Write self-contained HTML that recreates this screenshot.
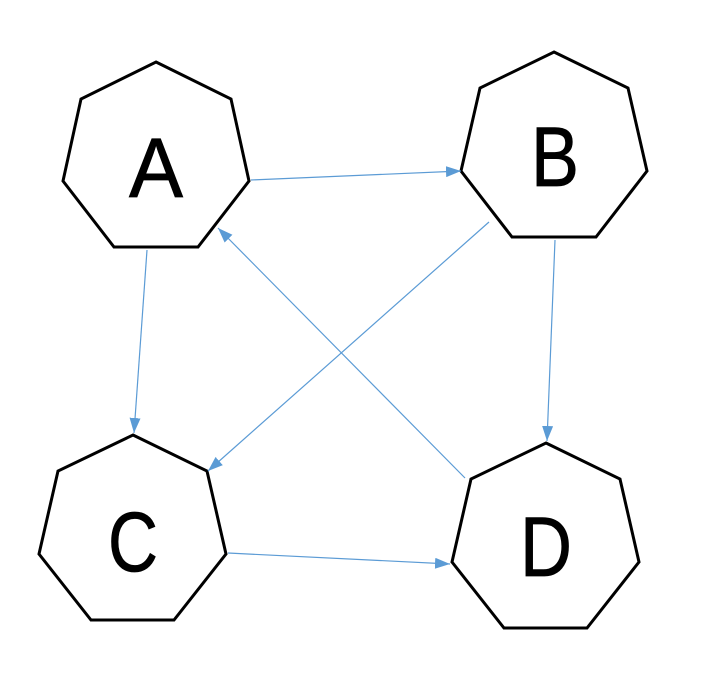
<!DOCTYPE html>
<html><head><meta charset="utf-8"><style>html,body{margin:0;padding:0;background:#fff;}svg{display:block}</style></head>
<body>
<svg width="720" height="684" viewBox="0 0 720 684" xmlns="http://www.w3.org/2000/svg">
<defs>
<marker id="ah" viewBox="0 0 15 11" refX="15" refY="5.5" markerWidth="15" markerHeight="11" markerUnits="userSpaceOnUse" orient="auto">
<path d="M0,0 L15,5.5 L0,11 z" fill="#5b9bd5"/>
</marker>
</defs>
<g fill="#fff" stroke="#000" stroke-width="3" stroke-linejoin="miter">
<polygon points="156,62 231,99 249,181 198,247 114,247 63,181 81,99"/>
<polygon points="554,52 628,88 647,171 596,237 512,237 461,171 480,88"/>
<polygon points="133,435 207,471 226,554 174,620 91,620 39,554 58,471"/>
<polygon points="546,443 620,479 639,562 587,628 504,628 452,562 471,479"/>
</g>
<g stroke="#5b9bd5" stroke-width="1.2" fill="none" marker-end="url(#ah)">
<line x1="251" y1="180" x2="461" y2="171"/>
<line x1="147" y1="250" x2="134" y2="433"/>
<line x1="555" y1="240" x2="547" y2="441"/>
<line x1="489" y1="222" x2="208" y2="471"/>
<line x1="465" y1="478" x2="218" y2="228"/>
<line x1="228" y1="553" x2="450" y2="564"/>
</g>
<g font-family="Liberation Sans, sans-serif" font-size="84" fill="#000" stroke="#000" stroke-width="0.8">
<text x="129" y="197" textLength="54" lengthAdjust="spacingAndGlyphs">A</text>
<text x="531" y="186" textLength="48" lengthAdjust="spacingAndGlyphs">B</text>
<text x="108" y="571" textLength="50" lengthAdjust="spacingAndGlyphs">C</text>
<text x="520" y="576" textLength="52" lengthAdjust="spacingAndGlyphs">D</text>
</g>
</svg>
</body></html>
